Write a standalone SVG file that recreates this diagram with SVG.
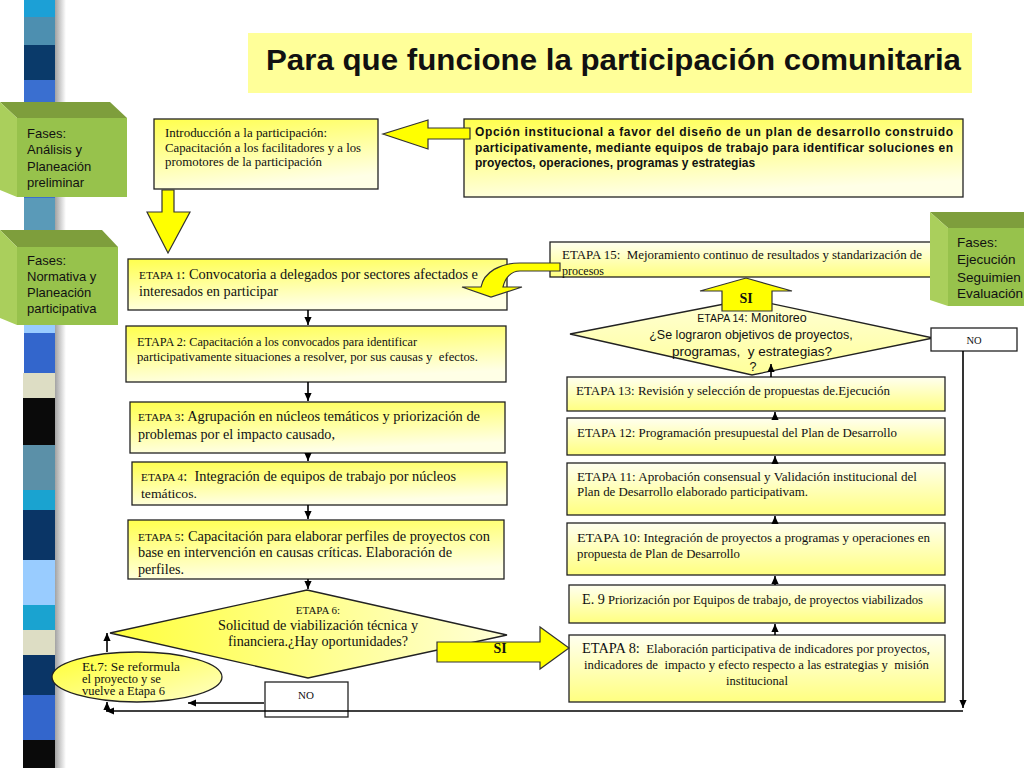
<svg xmlns="http://www.w3.org/2000/svg" width="1024" height="768" viewBox="0 0 1024 768">
<defs>
<style>
.t{font-family:"Liberation Serif","Times New Roman",serif;fill:#111}
.s{font-family:"Liberation Sans",Arial,sans-serif;fill:#111}
.bx{stroke:#222;stroke-width:1.3}
.c{stroke:#000;stroke-width:1.6;fill:none}
.blk{fill:#FFFF00;stroke:#333;stroke-width:1.2}
.gf{fill:#97C24C}
.gt{fill:#7E9E3C}
.gs{fill:#AACF5C}
.pre{white-space:pre}
</style>
<linearGradient id="gL" x1="0" y1="0" x2="0.3" y2="1"><stop offset="0" stop-color="#FFFF4D"/><stop offset="1" stop-color="#FFFFE6"/></linearGradient>
<linearGradient id="gR" x1="0" y1="0" x2="0" y2="1"><stop offset="0" stop-color="#FFFFF0"/><stop offset="1" stop-color="#FFFF80"/></linearGradient>
<linearGradient id="gD6" x1="0" y1="0" x2="1" y2="0"><stop offset="0" stop-color="#FFFF3C"/><stop offset="1" stop-color="#FFFFD8"/></linearGradient>
<linearGradient id="gD14" x1="0" y1="0" x2="0" y2="1"><stop offset="0" stop-color="#FFFFD6"/><stop offset="1" stop-color="#FFFF9A"/></linearGradient>
<linearGradient id="gE" x1="0" y1="0" x2="1" y2="1"><stop offset="0" stop-color="#FFFF30"/><stop offset="1" stop-color="#FFFFC8"/></linearGradient>
<linearGradient id="shd" x1="0" y1="0" x2="1" y2="0"><stop offset="0" stop-color="#9A9A9A"/><stop offset="1" stop-color="#FFFFFF"/></linearGradient>
<marker id="ah" viewBox="0 0 10 10" refX="10" refY="5" markerWidth="8" markerHeight="8" markerUnits="userSpaceOnUse" orient="auto"><path d="M0,0.5 L10,5 L0,9.5 z" fill="#000"/></marker>
</defs>
<rect width="1024" height="768" fill="#fff"/>

<g id="stripe-bar">
<rect x="54" y="0" width="12" height="768" fill="url(#shd)"/>
<rect x="24" y="0" width="31" height="17" fill="#1CA0D6"/>
<rect x="24" y="17" width="31" height="28" fill="#4D8FB0"/>
<rect x="24" y="45" width="31" height="35" fill="#0A3A6A"/>
<rect x="24" y="80" width="31" height="118" fill="#3A6FD0"/>
<rect x="24" y="198" width="31" height="127" fill="#5A9AB8"/>
<rect x="24" y="325" width="31" height="8" fill="#99CCFF"/>
<rect x="24" y="333" width="31" height="40" fill="#3366CC"/>
<rect x="23" y="373" width="32" height="25" fill="#DDDDC4"/>
<rect x="23" y="398" width="32" height="47" fill="#0A0A0A"/>
<rect x="23" y="445" width="32" height="45" fill="#5B90A8"/>
<rect x="23" y="490" width="32" height="20" fill="#1AA3D0"/>
<rect x="23" y="510" width="32" height="50" fill="#0A3566"/>
<rect x="23" y="560" width="32" height="45" fill="#99CCFF"/>
<rect x="23" y="605" width="32" height="25" fill="#1AA3D0"/>
<rect x="23" y="630" width="32" height="25" fill="#DDDDC4"/>
<rect x="23" y="655" width="32" height="40" fill="#0A3566"/>
<rect x="23" y="695" width="32" height="45" fill="#3366CC"/>
<rect x="23" y="740" width="32" height="28" fill="#0A0A0A"/>
</g>

<g id="title">
<rect x="248" y="33" width="724" height="60" fill="#FFFF99"/>
<text class="s" x="266" y="70" font-size="30" font-weight="bold" textLength="695" lengthAdjust="spacingAndGlyphs">Para que funcione la participación comunitaria</text>
</g>

<g id="intro">
<rect class="bx" x="154" y="119" width="224" height="70" fill="url(#gL)"/>
<text class="t" x="165" y="137" font-size="12.5" textLength="162" lengthAdjust="spacingAndGlyphs">Introducción a la participación:</text>
<text class="t" x="165" y="152" font-size="12.5" textLength="196" lengthAdjust="spacingAndGlyphs">Capacitación a los facilitadores y a los</text>
<text class="t" x="165" y="166" font-size="12.5" textLength="157" lengthAdjust="spacingAndGlyphs">promotores de la participación</text>
</g>

<g id="opcion">
<rect class="bx" x="464" y="119" width="499" height="78" fill="url(#gL)"/>
<text class="s" x="475" y="136" font-size="12" font-weight="bold" textLength="478">Opción institucional a favor del diseño de un plan de desarrollo construido</text>
<text class="s" x="475" y="152" font-size="12" font-weight="bold" textLength="478">participativamente, mediante equipos de trabajo para identificar soluciones en</text>
<text class="s" x="475" y="167" font-size="12" font-weight="bold">proyectos, operaciones, programas y estrategias</text>
</g>

<g id="etapa1">
<rect class="bx" x="128" y="259" width="379" height="51" fill="url(#gL)"/>
<text class="t" x="139" y="279" textLength="339" lengthAdjust="spacingAndGlyphs"><tspan font-size="11">ETAPA 1</tspan><tspan font-size="14">: Convocatoria a delegados por sectores afectados e</tspan></text>
<text class="t" x="139" y="296" font-size="14" textLength="139" lengthAdjust="spacingAndGlyphs">interesados en participar</text>
</g>

<g id="etapa2">
<rect class="bx" x="126" y="326" width="380" height="56" fill="url(#gL)"/>
<text class="t" x="137" y="346" font-size="11.5" textLength="280" lengthAdjust="spacingAndGlyphs">ETAPA 2: Capacitación a los convocados para identificar</text>
<text class="t pre" x="137" y="361" font-size="11.5" textLength="341" lengthAdjust="spacingAndGlyphs">participativamente situaciones a resolver, por sus causas y  efectos.</text>
</g>

<g id="etapa3">
<rect class="bx" x="130" y="402" width="375" height="51" fill="url(#gL)"/>
<text class="t" x="138" y="421" textLength="342" lengthAdjust="spacingAndGlyphs"><tspan font-size="11">ETAPA 3</tspan><tspan font-size="14">: Agrupación en núcleos temáticos y priorización de</tspan></text>
<text class="t" x="138" y="439" font-size="14" textLength="197" lengthAdjust="spacingAndGlyphs">problemas por el impacto causado,</text>
</g>

<g id="etapa4">
<rect class="bx" x="132" y="462" width="375" height="43" fill="url(#gL)"/>
<text class="t pre" x="141" y="481" textLength="315" lengthAdjust="spacingAndGlyphs"><tspan font-size="11">ETAPA 4</tspan><tspan font-size="14">:  Integración de equipos de trabajo por núcleos</tspan></text>
<text class="t" x="141" y="498" font-size="12.5" textLength="56" lengthAdjust="spacingAndGlyphs">temáticos.</text>
</g>

<g id="etapa5">
<rect class="bx" x="128" y="520" width="376" height="59" fill="url(#gL)"/>
<text class="t" x="138" y="541" textLength="352" lengthAdjust="spacingAndGlyphs"><tspan font-size="11">ETAPA 5</tspan><tspan font-size="14">: Capacitación para elaborar perfiles de proyectos con</tspan></text>
<text class="t" x="138" y="557" font-size="14" textLength="314" lengthAdjust="spacingAndGlyphs">base en intervención en causas críticas. Elaboración de</text>
<text class="t" x="138" y="574" font-size="14" textLength="46" lengthAdjust="spacingAndGlyphs">perfiles.</text>
</g>

<g id="etapa6">
<polygon class="bx" points="307,590 507,635 308,678 110,633" fill="url(#gD6)"/>
<text class="t" x="318" y="614" font-size="11" text-anchor="middle">ETAPA 6:</text>
<text class="t" x="318" y="630" font-size="14" text-anchor="middle" textLength="200" lengthAdjust="spacingAndGlyphs">Solicitud de viabilización técnica y</text>
<text class="t" x="318" y="646" font-size="14" text-anchor="middle" textLength="180" lengthAdjust="spacingAndGlyphs">financiera.¿Hay oportunidades?</text>
</g>

<g id="etapa7">
<ellipse class="bx" cx="137" cy="677" rx="85" ry="25" fill="url(#gE)"/>
<text class="t" x="82" y="671" font-size="12.5" textLength="98" lengthAdjust="spacingAndGlyphs">Et.7: Se reformula</text>
<text class="t" x="82" y="683" font-size="12.5">el proyecto y se</text>
<text class="t" x="82" y="695" font-size="12.5">vuelve a Etapa 6</text>
</g>

<g id="no6">
<rect class="bx" x="265" y="682" width="83" height="35" fill="#fff"/>
<text class="t" x="306" y="699" font-size="11" text-anchor="middle">NO</text>
</g>

<g id="etapa8">
<rect class="bx" x="569" y="635" width="376" height="67" fill="url(#gR)"/>
<text class="t pre" x="582" y="653" textLength="348" lengthAdjust="spacingAndGlyphs"><tspan font-size="14">ETAPA 8:</tspan><tspan font-size="12.5">  Elaboración participativa de indicadores por proyectos,</tspan></text>
<text class="t pre" x="584" y="669" font-size="12.5" textLength="345" lengthAdjust="spacingAndGlyphs">indicadores de  impacto y efecto respecto a las estrategias y  misión</text>
<text class="t" x="757" y="685" font-size="12.5" text-anchor="middle">institucional</text>
</g>

<g id="etapa9">
<rect class="bx" x="569" y="585" width="376" height="38" fill="url(#gR)"/>
<text class="t" x="582" y="604" textLength="341" lengthAdjust="spacingAndGlyphs"><tspan font-size="14">E. 9</tspan><tspan font-size="12.5"> Priorización por Equipos de trabajo, de proyectos viabilizados</tspan></text>
</g>

<g id="etapa10">
<rect class="bx" x="567" y="523" width="378" height="52" fill="url(#gR)"/>
<text class="t" x="577" y="542" textLength="353" lengthAdjust="spacingAndGlyphs"><tspan font-size="13.5">ETAPA 10</tspan><tspan font-size="12.5">: Integración de proyectos a programas y operaciones en</tspan></text>
<text class="t" x="577" y="558" font-size="12.5" textLength="163" lengthAdjust="spacingAndGlyphs">propuesta de Plan de Desarrollo</text>
</g>

<g id="etapa11">
<rect class="bx" x="567" y="463" width="378" height="52" fill="url(#gR)"/>
<text class="t" x="577" y="481" font-size="12.5" textLength="340" lengthAdjust="spacingAndGlyphs">ETAPA 11: Aprobación consensual y Validación institucional del</text>
<text class="t" x="577" y="496" font-size="12.5" textLength="231" lengthAdjust="spacingAndGlyphs">Plan de Desarrollo elaborado participativam.</text>
</g>

<g id="etapa12">
<rect class="bx" x="567" y="418" width="378" height="37" fill="url(#gR)"/>
<text class="t" x="577" y="437" font-size="12.5" textLength="320" lengthAdjust="spacingAndGlyphs">ETAPA 12: Programación presupuestal del Plan de Desarrollo</text>
</g>

<g id="etapa13">
<rect class="bx" x="567" y="377" width="378" height="34" fill="url(#gR)"/>
<text class="t" x="576" y="395" font-size="12.5" textLength="314" lengthAdjust="spacingAndGlyphs">ETAPA 13: Revisión y selección de propuestas de.Ejecución</text>
</g>

<g id="etapa14">
<polygon class="bx" points="750,299 933,338 752,375 570,334" fill="url(#gD14)"/>
<text class="s" x="752" y="322" text-anchor="middle"><tspan font-size="10.5">ETAPA 14</tspan><tspan font-size="12.5">: Monitoreo</tspan></text>
<text class="s" x="751" y="339" font-size="12.5" text-anchor="middle">¿Se lograron objetivos de proyectos,</text>
<text class="s pre" x="752" y="356" font-size="13.5" text-anchor="middle">programas,  y estrategias?</text>
<text class="s" x="753" y="371" font-size="12.5" text-anchor="middle">?</text>
</g>

<g id="no14">
<rect class="bx" x="931" y="328" width="86" height="23" fill="#fff"/>
<text class="t" x="974" y="344" font-size="10.5" text-anchor="middle">NO</text>
</g>

<g id="etapa15">
<rect class="bx" x="550" y="242" width="390" height="35" fill="url(#gR)"/>
<text class="t pre" x="562" y="259" font-size="12" textLength="360" lengthAdjust="spacingAndGlyphs">ETAPA 15:  Mejoramiento continuo de resultados y standarización de</text>
<text class="t" x="562" y="275" font-size="12">procesos</text>
</g>

<g id="connectors">
<path class="c" d="M308 310 V325" marker-end="url(#ah)"/>
<path class="c" d="M308 382 V401" marker-end="url(#ah)"/>
<path class="c" d="M308 453 V461" marker-end="url(#ah)"/>
<path class="c" d="M308 505 V519" marker-end="url(#ah)"/>
<path class="c" d="M308 579 V589" marker-end="url(#ah)"/>
<path class="c" d="M775 635 V624" marker-end="url(#ah)"/>
<path class="c" d="M775 585 V576" marker-end="url(#ah)"/>
<path class="c" d="M775 523 V516" marker-end="url(#ah)"/>
<path class="c" d="M775 463 V456" marker-end="url(#ah)"/>
<path class="c" d="M775 418 V412" marker-end="url(#ah)"/>
<path class="c" d="M771 377 V364" marker-end="url(#ah)"/>
<path class="c" d="M963 351 V708" marker-end="url(#ah)"/>
<path class="c" d="M963 711 H106" marker-end="url(#ah)"/>
<path class="c" d="M107 711 V702" marker-end="url(#ah)"/>
<path class="c" d="M264 703 H188" marker-end="url(#ah)"/>
<path class="c" d="M107 652 V633" marker-end="url(#ah)"/>
<polygon class="blk" points="470,128 428,128 428,120 383,134 428,149 428,139 470,139"/>
<polygon class="blk" points="162,190 174,190 174,212 190,212 168,253 147,212 162,212"/>
<path class="blk" d="M560 263 L520 263 C500 263 484 272 481 287 L462 287 L491 297 L522 287 L503 287 C505 278 511 271 520 271 L560 271 Z"/>
<polygon class="blk" points="722,311 722,291 700,291 746,278 792,291 772,291 772,311"/>
<text class="t" x="746" y="303" font-size="14" font-weight="bold" text-anchor="middle">SI</text>
<polygon class="blk" points="437,642 540,642 540,627 569,648 540,669 540,662 437,662"/>
<text class="t" x="500" y="653" font-size="14" font-weight="bold" text-anchor="middle">SI</text>
</g>

<g id="fase1">
<polygon class="gt" points="0,102 110,102 127,118 17,118"/>
<polygon class="gs" points="0,102 17,118 17,197 0,190"/>
<rect class="gf" x="17" y="118" width="110" height="79"/>
<text class="s" x="27" y="138" font-size="13">Fases:</text>
<text class="s" x="27" y="154" font-size="13">Análisis y</text>
<text class="s" x="27" y="171" font-size="13">Planeación</text>
<text class="s" x="27" y="187" font-size="13">preliminar</text>
</g>

<g id="fase2">
<polygon class="gt" points="0,230 102,230 118,247 17,247"/>
<polygon class="gs" points="0,230 17,247 17,325 0,318"/>
<rect class="gf" x="17" y="247" width="101" height="78"/>
<text class="s" x="27" y="265" font-size="13">Fases:</text>
<text class="s" x="27" y="281" font-size="13">Normativa y</text>
<text class="s" x="27" y="297" font-size="13">Planeación</text>
<text class="s" x="27" y="313" font-size="13">participativa</text>
</g>

<g id="fase3">
<polygon class="gt" points="930,212 1024,212 1024,228 948,228"/>
<polygon class="gs" points="930,212 948,228 948,306 930,300"/>
<rect class="gf" x="948" y="228" width="76" height="78"/>
<text class="s" x="957" y="247" font-size="13.5">Fases:</text>
<text class="s" x="957" y="264" font-size="13.5">Ejecución</text>
<text class="s" x="957" y="282" font-size="13.5">Seguimien</text>
<text class="s" x="957" y="298" font-size="13.5">Evaluación</text>
</g>
</svg>
